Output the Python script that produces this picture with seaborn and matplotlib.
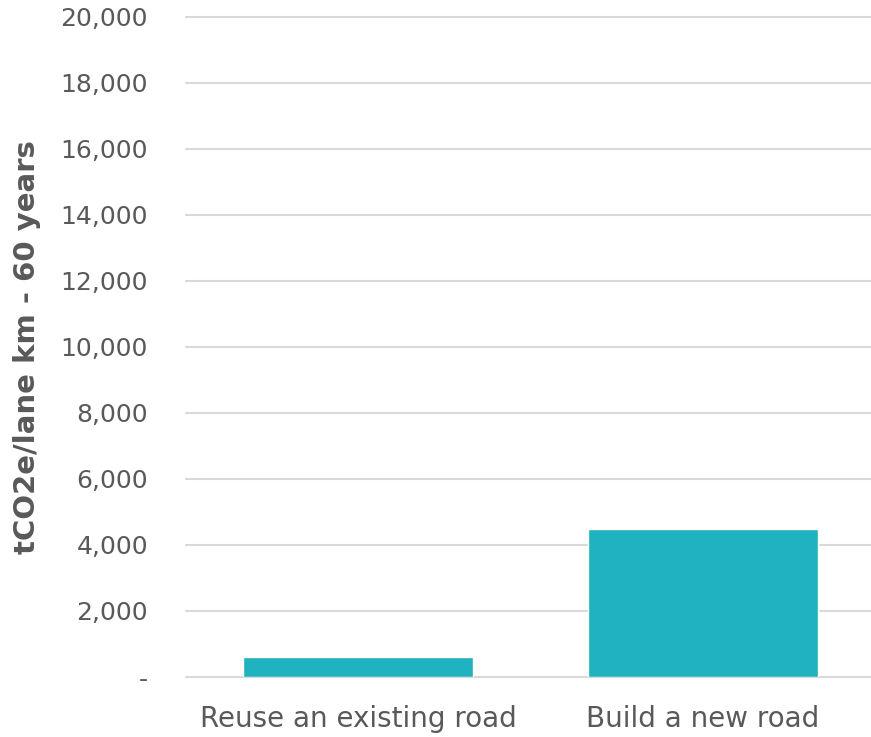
import numpy as np
import pandas as pd
import seaborn as sns
import matplotlib.pyplot as plt
from matplotlib.ticker import FuncFormatter

# Chart values
categories = ['Reuse an existing road', 'Build a new road']
emissions = [600, 4480]
y_ticks = list(range(0, 20001, 2000))

df = pd.DataFrame({'Option': categories, 'Emissions': emissions})

sns.set_style('white')
plt.rcParams['font.family'] = ['DejaVu Sans']

fig = plt.figure(figsize=(8.71, 7.37), dpi=100)
ax = fig.add_axes([0.213, 0.0814, 0.792, 0.896])

sns.barplot(data=df, x='Option', y='Emissions', color='#20B2BE', width=0.667,
            saturation=1, ax=ax, zorder=3)

ax.set_ylim(0, 20000)
ax.set_yticks(y_ticks)
ax.yaxis.set_major_formatter(FuncFormatter(lambda v, p: '-' if v == 0 else f'{v:,.0f}'))
ax.grid(axis='y', color='#d9d9d9', linewidth=1.5, zorder=0, clip_on=False)
ax.set_axisbelow(True)
for s in ax.spines.values():
    s.set_visible(False)

ax.tick_params(axis='both', length=0, labelcolor='#595959')
ax.tick_params(axis='y', pad=27, labelsize=18)
ax.tick_params(axis='x', pad=20, labelsize=20)
ax.set_xlabel('')
ax.set_ylabel('tCO2e/lane km - 60 years', fontsize=21, fontweight='bold',
              color='#595959', labelpad=14)

fig.savefig('out.png', dpi=100)
